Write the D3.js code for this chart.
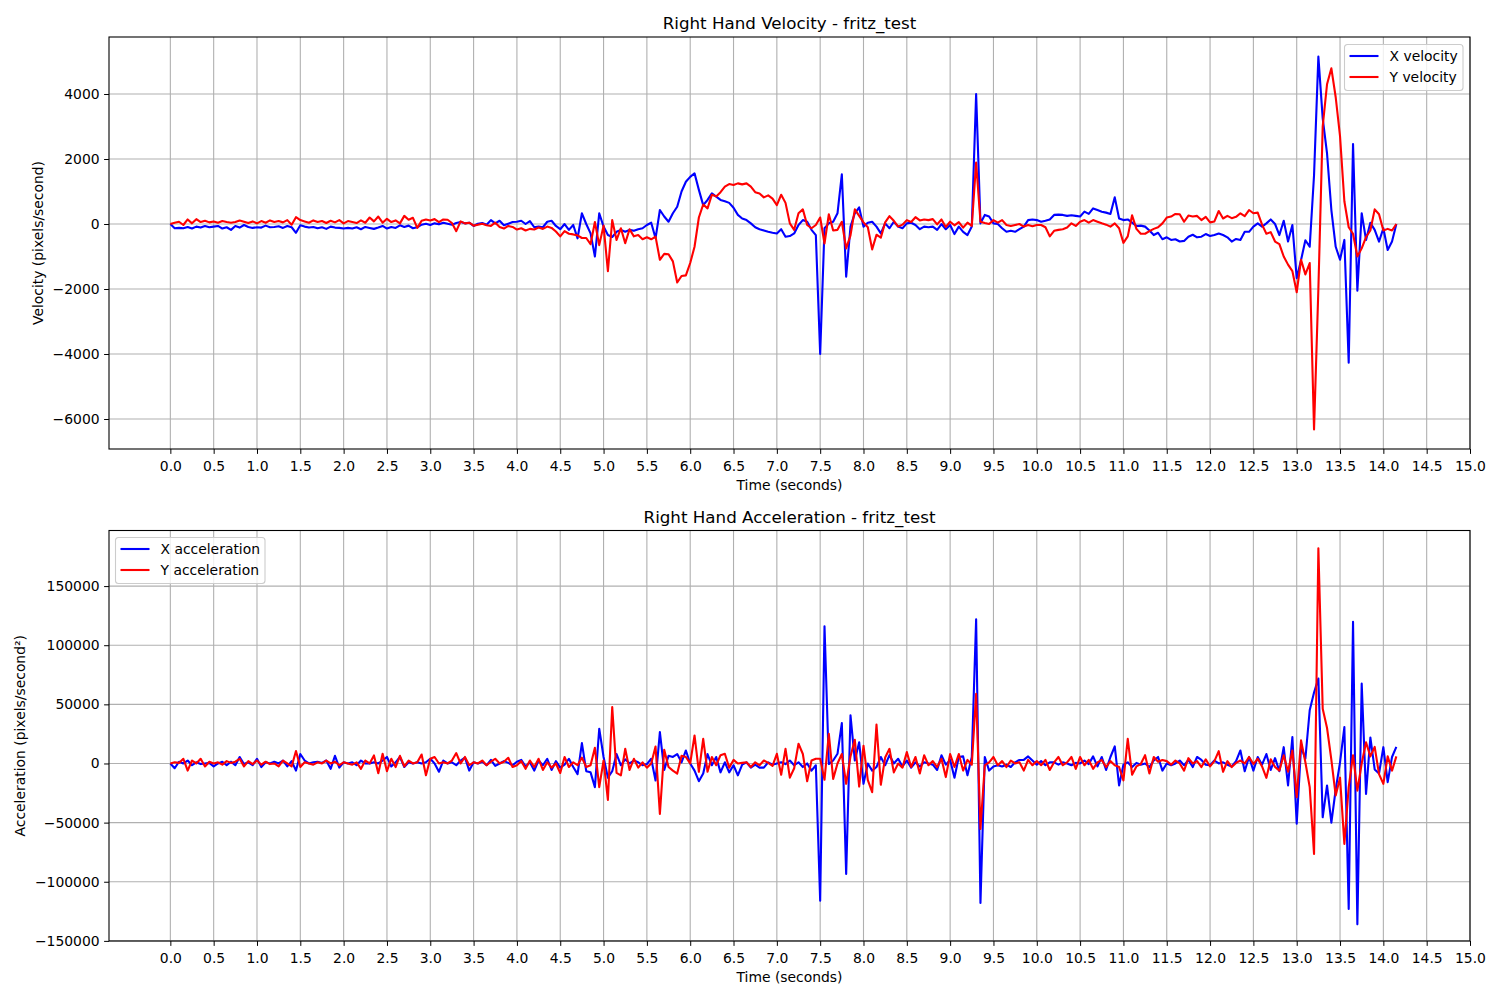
<!DOCTYPE html>
<html>
<head>
<meta charset="utf-8">
<script src="https://cdn.jsdelivr.net/npm/d3@7"></script>
<style>
body{margin:0;background:#fff}
text{font-family:"DejaVu Sans",sans-serif;fill:#000}
</style>
</head>
<body>
<div id="chart"></div>
<script>
// samples every 0.05 s
const sampleStep=0.05

const velX=[
0,-130,-120,-130,-90,-140,-80,-110,-60,-100,
-80,-60,-140,-100,-180,-60,-110,-30,-90,-120,
-100,-110,-50,-100,-90,-70,-120,-60,-100,-270,
-40,-80,-110,-90,-130,-100,-150,-80,-110,-120,
-140,-120,-140,-100,-160,-90,-120,-150,-110,-60,
-140,-90,-120,-40,-90,-50,-130,-100,-20,10,
-30,20,-10,40,10,-20,30,60,20,40,
-60,10,30,-20,120,20,100,-40,10,60,
70,100,0,90,-100,-80,-100,70,100,-60,
-160,0,-180,-30,-440,330,0,-290,-1000,330,
-80,-340,-400,-240,-180,-240,-180,-210,-160,-130,
-30,40,-440,430,230,70,330,530,1000,1300,
1450,1560,1050,580,740,940,840,740,700,650,
500,280,170,120,20,-100,-160,-200,-240,-270,
-290,-160,-390,-370,-290,-30,120,70,-180,-340,
-4000,-130,20,70,330,1530,-1620,-80,330,510,
-80,40,70,-80,-290,20,-130,70,-80,-130,
20,40,-30,-160,-80,-100,-80,-180,0,-160,
-30,-310,-80,-240,-340,-80,4000,20,280,230,
20,0,-130,-240,-210,-240,-160,-80,120,140,
120,70,100,140,280,290,280,250,270,250,
230,380,310,480,430,380,350,310,820,170,
120,140,40,-60,-50,-80,-200,-340,-270,-470,
-410,-490,-470,-540,-520,-390,-330,-410,-390,-310,
-370,-340,-290,-340,-410,-540,-460,-490,-240,-240,
-80,20,-80,20,140,0,-340,100,-540,-30,
-1670,-1110,-500,-700,1500,5150,3250,2170,430,-700,
-1100,-490,-4270,2460,-2050,330,-490,40,-180,-540,
-130,-800,-540,0
]

const velY=[
0,40,70,-30,140,20,150,60,100,50,
80,40,90,60,40,60,110,70,30,80,
20,90,40,110,60,90,50,120,-20,210,
120,80,40,110,60,90,30,100,50,120,
20,90,60,30,110,40,200,80,230,40,
160,60,110,20,250,130,190,-120,100,140,
110,150,60,140,130,30,-220,80,20,40,
-50,-20,10,-40,-60,40,-90,-140,-60,-90,
-170,-130,-200,-150,-170,-110,-150,-80,-120,-230,
-380,-220,-300,-320,-350,-430,-430,-620,60,-650,
-50,-1450,120,-490,-130,-590,-160,-380,-340,-470,
-410,-470,-390,-1100,-920,-930,-1150,-1800,-1600,-1580,
-1200,-700,200,600,480,900,850,980,1150,1230,
1200,1250,1220,1250,1150,980,940,820,880,780,
580,900,650,20,-180,330,450,-30,-130,-30,
200,-600,300,-200,-180,70,-750,-350,450,250,
50,-100,-780,-330,-420,50,240,100,-80,-20,
120,60,210,110,140,120,150,-10,140,-90,
70,-40,60,-110,40,-60,1890,70,30,0,
120,40,120,-30,-60,-30,0,-80,-30,-70,
-30,-30,-100,-380,-210,-180,-160,-110,20,-60,
70,120,40,120,70,20,-20,-80,20,-130,
-580,-380,270,-150,-300,-300,-220,-150,-100,20,
200,230,310,300,70,260,230,250,120,220,
50,80,400,170,250,180,220,330,240,430,
330,350,-20,-300,-250,-540,-620,-1000,-1250,-1450,
-2100,-1100,-1550,-1200,-6320,-2000,3000,4300,4790,3900,
2700,700,-100,-300,-1000,-750,-400,-200,450,300,
-200,-150,-200,0
]

const accX=[
0,-4000,1500,0,2500,-1500,1000,-500,0,500,
-2500,0,1500,-1500,1500,-1500,5500,-500,1000,-1500,
4000,-3000,1000,0,1500,0,2500,-2500,2000,-6000,
8000,2500,0,1000,1500,500,2500,-4500,6500,-3500,
1000,0,1000,-1500,2500,0,0,1000,0,2500,
5500,-2500,1000,5500,-3000,1000,0,1000,0,1000,
4000,0,-7000,2500,0,1000,-1500,2500,5000,-6000,
1000,0,1500,-1500,3000,-2000,0,2000,500,-1500,
1500,3000,-2500,1000,-6000,2500,-1500,4000,-5500,2000,
-3500,-1000,4000,-3000,-9000,17200,-6500,-7500,-20000,29400,
5500,-12000,-6500,8000,-1500,3500,0,2500,1000,-1500,
-500,4000,-14400,26500,-5500,6500,5500,8000,1000,11000,
0,-6000,-15000,-8500,8000,-1500,5500,-7500,1000,-7500,
-1500,-10000,-1000,1000,-3500,-1000,-3500,-3500,1000,-1000,
0,1000,-500,2500,-1500,1000,-3000,0,-6000,-1500,
-116000,116000,-500,2500,8200,34200,-93500,40700,2500,18000,
-17200,0,-6000,-3000,5500,-1500,7000,0,4000,-2500,
2500,-3500,1000,-2500,1000,0,-1000,-5500,7000,-1000,
3000,-12000,5500,6000,-10000,5500,122000,-118000,5500,-6000,
-2500,-1500,-2500,-1000,-3000,1000,3000,3000,6000,2500,
-1000,2000,-1500,1000,1000,-1000,1000,0,-1500,500,
0,2500,-500,6000,-2500,5500,-5500,5500,14400,-18600,
-1000,1000,-3000,500,-1000,0,-3000,2500,5500,-6000,
0,-1500,0,2500,-1500,3000,-3000,5500,3000,-1000,
-1500,2500,0,1000,-1000,-2500,2000,11000,-6500,5500,
-6000,5500,-1000,8000,-5500,4500,-6500,13800,-18600,22400,
-51000,14000,4000,45000,60000,71800,-45500,-18600,-50000,-22000,
1000,30800,-123000,119800,-136000,67500,-25700,22000,-5000,-8500,
13800,-15800,5500,14000
]

const accY=[
0,1000,500,4000,-6000,2500,0,4000,-2500,1500,
0,1000,-1000,2000,500,1500,4000,-2500,2000,-500,
2500,-1000,1500,-500,0,-2500,2500,0,-2500,10500,
-3000,1000,0,-1000,1000,0,2500,0,1500,-1500,
1000,0,-1000,1000,-4500,2500,0,6800,-8200,8200,
-6500,4000,-3000,6500,-2500,2500,0,1000,7600,-10000,
4000,5500,0,1000,0,2500,8800,0,5500,-1500,
1000,0,2500,-1500,1500,4000,0,1500,4800,-3000,
-1500,2000,-4500,2500,-3000,4000,-5500,1000,-3500,0,
-8000,5500,-3000,1000,-1500,5000,-3000,-1500,13300,-20000,
2500,-30800,47700,-8000,-10000,12400,-5500,4000,-3500,1000,
-3500,0,14400,-42700,11600,-3000,-6000,-8500,6500,5500,
0,23700,-7000,20900,-7000,5500,-1500,7000,8200,-3500,
3000,0,500,1000,-3000,1000,-1500,2500,500,-2000,
8200,-9500,12400,-12000,-4000,16700,8000,-15000,2500,4000,
4000,-13800,25000,-13000,0,8000,-17200,6000,20000,-19500,
15000,-14000,-24300,33000,-18000,5000,12400,-7500,0,-3500,
9600,-3000,5500,-8500,7000,-1500,2000,-3000,4000,-11500,
8000,-3000,8000,-6000,3000,-1000,59000,-55400,-1500,1000,
5500,-1500,2000,-3000,2500,0,1000,-6000,3000,-1500,
2000,-1500,3000,-5500,1000,5500,-1500,1000,5500,-4500,
5500,-1500,3000,-4500,1000,3000,-3000,2000,-1500,-3000,
-14400,20900,-9500,-2500,-500,7000,-8500,5500,1500,3000,
2000,-1000,2500,0,-6000,4500,0,2000,-3000,3500,
-2500,2000,10400,-7000,2000,-3000,500,2500,0,5500,
-500,4000,-2500,-12100,3500,-3000,-6000,7000,-7000,11000,
-28500,19500,1000,-20000,-76500,182000,46300,30000,3000,-27100,
-12000,-68000,-20000,7000,-23000,0,18000,6000,14000,-9000,
-17200,6000,-6000,6000
]

const timeTicks=[0,0.5,1,1.5,2,2.5,3,3.5,4,4.5,5,5.5,6,6.5,7,7.5,8,8.5,9,9.5,10,10.5,11,11.5,12,12.5,13,13.5,14,14.5,15]
const velTicks=[4000,2000,0,-2000,-4000,-6000]
const accTicks=[150000,100000,50000,0,-50000,-100000,-150000]

const width=1500
const height=1000

const svg=d3.select("#chart")
.append("svg")
.attr("width",width)
.attr("height",height)

const x=d3.scaleLinear().domain([-0.708,15]).range([109,1470])

function fmt(v){
return String(v).replace("-","\u2212")
}

function drawPanel(p){

const y=d3.scaleLinear().domain(p.domain).range([p.bottom,p.top])
const g=svg.append("g")

g.append("clipPath").attr("id",p.id)
.append("rect")
.attr("x",109).attr("y",p.top)
.attr("width",1470-109).attr("height",p.bottom-p.top)

// grid
g.append("g").selectAll("line")
.data(timeTicks)
.enter().append("line")
.attr("x1",d=>x(d)).attr("x2",d=>x(d))
.attr("y1",p.top).attr("y2",p.bottom)
.attr("stroke","#b0b0b0").attr("stroke-width",1.1)

g.append("g").selectAll("line")
.data(p.ticks)
.enter().append("line")
.attr("x1",109).attr("x2",1470)
.attr("y1",d=>y(d)).attr("y2",d=>y(d))
.attr("stroke","#b0b0b0").attr("stroke-width",1.1)

const line=d3.line()
.x((d,i)=>x(i*sampleStep))
.y(d=>y(d))

p.series.forEach(s=>{
g.append("path")
.datum(s.values)
.attr("clip-path","url(#"+p.id+")")
.attr("d",line)
.attr("fill","none")
.attr("stroke",s.color)
.attr("stroke-width",2.1)
.attr("stroke-linejoin","round")
})

g.append("rect")
.attr("x",109).attr("y",p.top)
.attr("width",1470-109).attr("height",p.bottom-p.top)
.attr("fill","none").attr("stroke","#000").attr("stroke-width",1.1)

const xAxis=d3.axisBottom(x).tickValues(timeTicks).tickFormat(d=>d.toFixed(1)).tickSize(4.9).tickPadding(7)
const xg=g.append("g").attr("transform","translate(0,"+p.bottom+")").call(xAxis)
xg.select(".domain").remove()
xg.selectAll("text").attr("font-size",13.9).attr("font-family","DejaVu Sans")

const yAxis=d3.axisLeft(y).tickValues(p.ticks).tickFormat(fmt).tickSize(4.9).tickPadding(4.5)
const yg=g.append("g").attr("transform","translate(109,0)").call(yAxis)
yg.select(".domain").remove()
yg.selectAll("text").attr("font-size",13.9).attr("font-family","DejaVu Sans")

g.append("text")
.attr("x",789.5).attr("y",p.top-8)
.attr("text-anchor","middle")
.attr("font-size",16.7)
.text(p.title)

g.append("text")
.attr("x",789.5).attr("y",p.bottom+41)
.attr("text-anchor","middle")
.attr("font-size",13.9)
.text("Time (seconds)")

g.append("text")
.attr("transform","translate("+p.labelX+","+((p.top+p.bottom)/2)+") rotate(-90)")
.attr("text-anchor","middle")
.attr("font-size",13.9)
.text(p.ylabel)

// legend
const lg=g.append("g").attr("transform","translate("+p.legend[0]+","+p.legend[1]+")")
lg.append("rect")
.attr("width",p.legendW).attr("height",46)
.attr("rx",3)
.attr("fill","#fff").attr("fill-opacity",0.8)
.attr("stroke","#cccccc").attr("stroke-width",1.1)

p.series.forEach((s,i)=>{
lg.append("line")
.attr("x1",5).attr("x2",34)
.attr("y1",11.5+i*21).attr("y2",11.5+i*21)
.attr("stroke",s.color).attr("stroke-width",2.1)
lg.append("text")
.attr("x",45).attr("y",16.5+i*21)
.attr("font-size",13.9)
.text(s.name)
})

}

drawPanel({
id:"clipVel",
top:37,bottom:449,
domain:[-6923,5754],
ticks:velTicks,
title:"Right Hand Velocity - fritz_test",
ylabel:"Velocity (pixels/second)",
labelX:43,
legend:[1344.5,44.5],legendW:118.5,
series:[
{name:"X velocity",color:"#0000ff",values:velX},
{name:"Y velocity",color:"#ff0000",values:velY}
]
})

drawPanel({
id:"clipAcc",
top:530.5,bottom:941,
domain:[-150100,197000],
ticks:accTicks,
title:"Right Hand Acceleration - fritz_test",
ylabel:"Acceleration (pixels/second\u00b2)",
labelX:25,
legend:[115.5,537.5],legendW:149.5,
series:[
{name:"X acceleration",color:"#0000ff",values:accX},
{name:"Y acceleration",color:"#ff0000",values:accY}
]
})

</script>
</body>
</html>
